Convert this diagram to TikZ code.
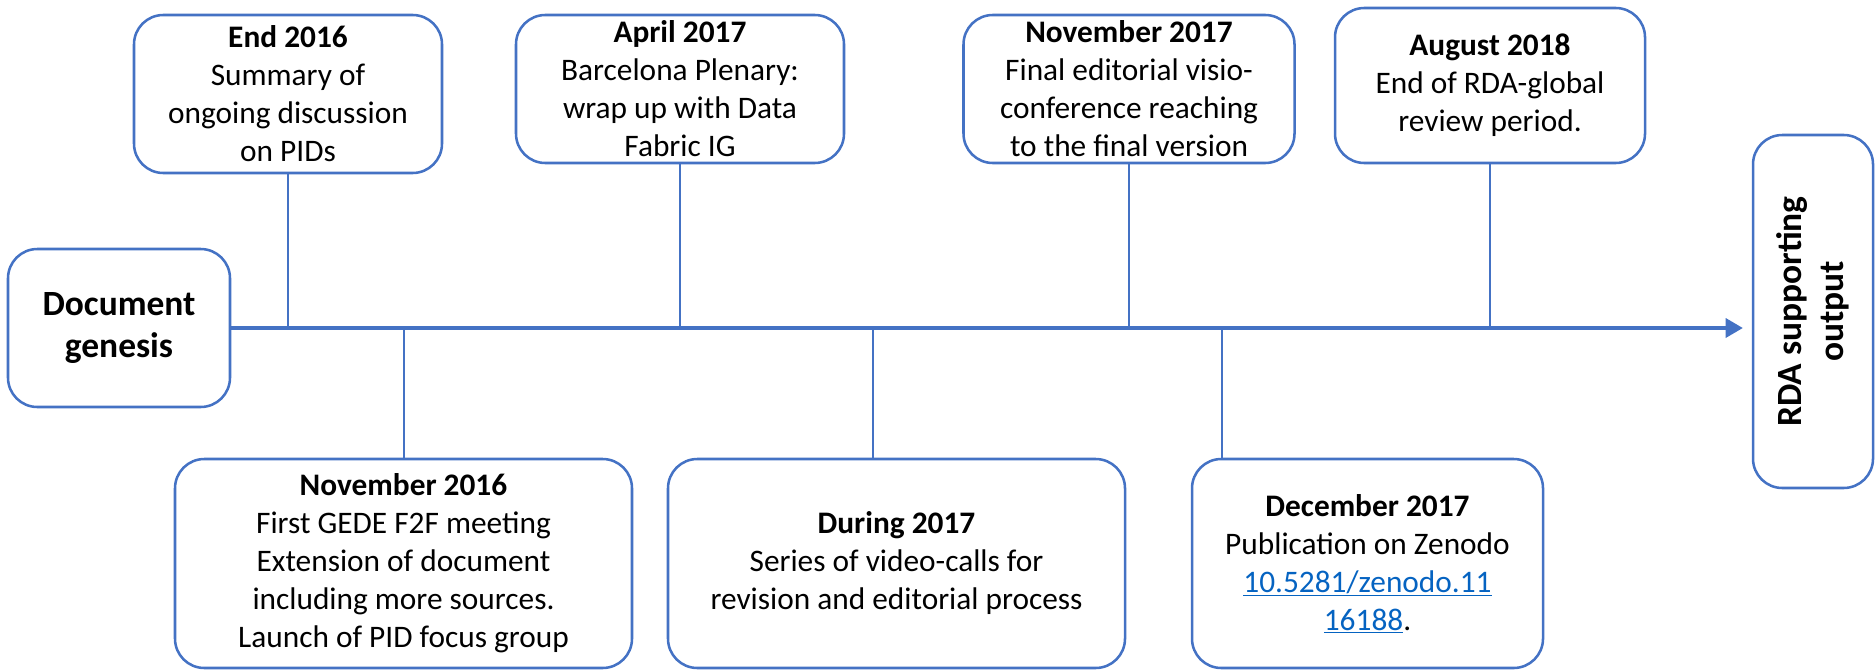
\documentclass[tikz,border=0pt]{standalone}
\usepackage{fontspec}
\setmainfont{Carlito}
\usetikzlibrary{arrows.meta}
\definecolor{accent}{HTML}{4472C4}
\definecolor{linkblue}{HTML}{0563C1}
\tikzset{
  evbox/.style={draw=accent, line width=1.9pt, rounded corners=22pt, inner sep=0pt, align=center,
    font=\fontsize{23.5}{28.5}\selectfont},
  bigtext/.style={align=center, inner sep=0pt, font=\fontsize{26.6}{31.5}\selectfont\bfseries},
  conn/.style={draw=accent, line width=1.5pt},
  axis/.style={draw=accent, line width=3.4pt, -{Triangle[length=13pt,width=14pt]}},
}
\newcommand{\lnk}[1]{\textcolor{linkblue}{\underline{#1}}}
\begin{document}
\begin{tikzpicture}[x=0.75pt,y=-0.75pt]
\useasboundingbox (0,0) rectangle (1876,671);

% boxes
\node[evbox, minimum width=166.5pt, minimum height=118.5pt] (dg) at (119,328) {};
\node[bigtext] (dgt) at (dg.center) {Document\\genesis};

\node[evbox, minimum width=231pt, minimum height=118.5pt] (e16) at (288,94)
  {\textbf{End 2016}\\Summary of\\ongoing discussion\\on PIDs};
\node[evbox, minimum width=246pt, minimum height=111pt] (a17) at (680,89)
  {\textbf{April 2017}\\Barcelona Plenary:\\wrap up with Data\\Fabric IG};
\node[evbox, minimum width=248.25pt, minimum height=111pt] (n17) at (1129,89)
  {\textbf{November 2017}\\Final editorial visio-\\conference reaching\\to the final version};
\node[evbox, minimum width=232.5pt, minimum height=116.25pt] (a18) at (1490,85.5)
  {\textbf{August 2018}\\End of RDA-global\\review period.};

\node[evbox, minimum width=342.75pt, minimum height=156.75pt] (n16) at (403.5,563.5)
  {\textbf{November 2016}\\First GEDE F2F meeting\\Extension of document\\including more sources.\\Launch of PID focus group};
\node[evbox, minimum width=342.75pt, minimum height=156.75pt] (d17) at (896.5,563.5)
  {\textbf{During 2017}\\Series of video-calls for\\revision and editorial process};
\node[evbox, minimum width=263.25pt, minimum height=156.75pt] (dec17) at (1367.5,563.5)
  {\textbf{December 2017}\\Publication on Zenodo\\\lnk{10.5281/zenodo.11}\\\lnk{16188}.};

\node[evbox, minimum width=90pt, minimum height=264.75pt] (rda) at (1813,311.5) {};
\node[bigtext, rotate=90] (rdat) at (rda.center) {RDA supporting\\output};

% timeline
\coordinate (tip) at (1743,328);
\coordinate (t16) at (403.5,328);
\coordinate (t17) at (873,328);
\coordinate (t17d) at (1222,328);
\draw[axis] (dg.east) -- (tip);

% connectors
\draw[conn] (e16.south) -- (e16.south |- tip);
\draw[conn] (a17.south) -- (a17.south |- tip);
\draw[conn] (n17.south) -- (n17.south |- tip);
\draw[conn] (a18.south) -- (a18.south |- tip);
\draw[conn] (t16) -- (t16 |- n16.north);
\draw[conn] (t17) -- (t17 |- d17.north);
\draw[conn] (t17d) -- (t17d |- dec17.north);
\end{tikzpicture}
\end{document}
